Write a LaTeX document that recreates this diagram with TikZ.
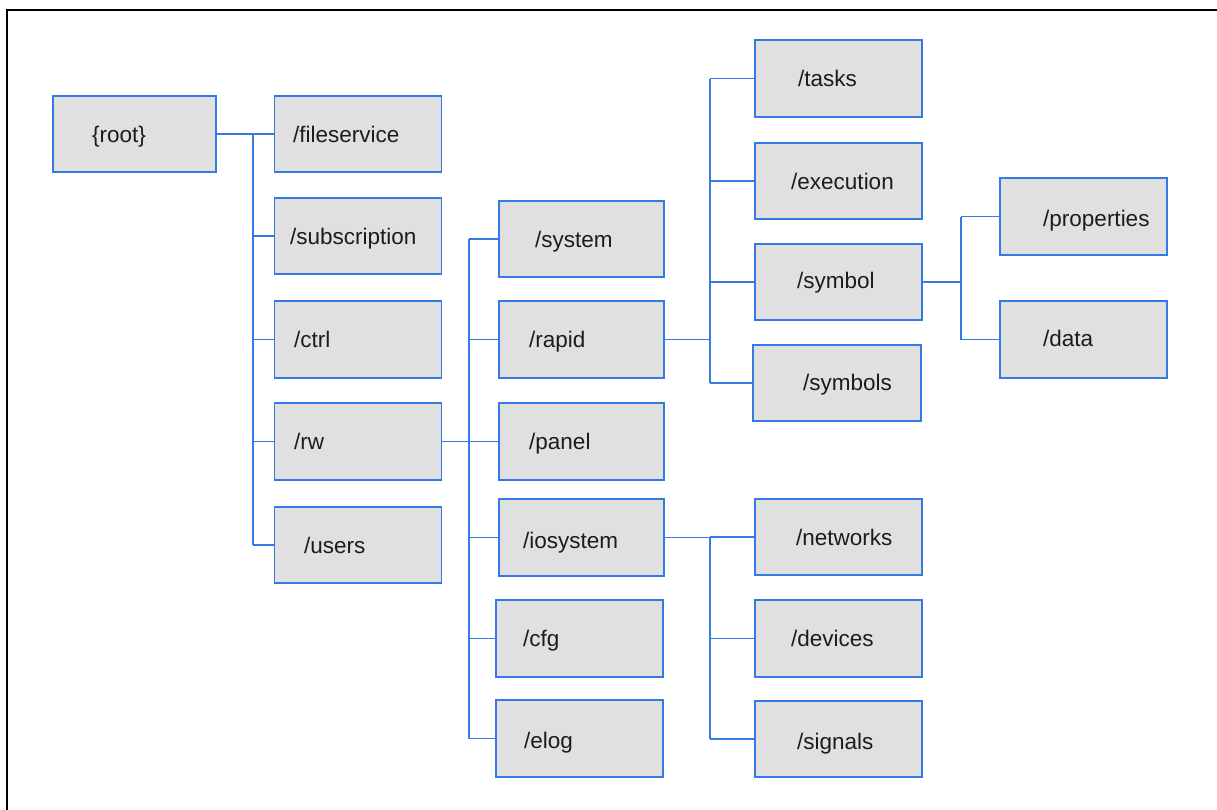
\documentclass[tikz,border=0pt]{standalone}
\usepackage{fontspec}
\setmainfont{Liberation Sans}
\definecolor{boxblue}{RGB}{52,122,230}
\definecolor{boxgray}{RGB}{224,224,224}
\definecolor{txt}{RGB}{28,28,28}
\tikzset{
  box/.style={draw=boxblue, fill=boxgray, line width=1.8pt, inner sep=0pt,
              minimum width=167pt, minimum height=76.5pt},
  lbl/.style={anchor=west, inner sep=0pt, text=txt, text height=16.5pt, text depth=0pt,
              font=\fontsize{22.5}{27}\selectfont},
  conn/.style={draw=boxblue, line width=1.8pt},
  frame/.style={draw=black, line width=2.5pt}
}
\begin{document}
\begin{tikzpicture}[x=1pt,y=-1pt]
\useasboundingbox (0,0) rectangle (1217,809);
% outer frame (only top and left edges are visible)
\coordinate (fbl) at (7,812);
\coordinate (ftl) at (7,10);
\coordinate (ftr) at (1220,10);
\draw[frame] (fbl) -- (ftl) -- (ftr);

% boxes
\node[box, minimum width=163pt] (root) at (134.5,134) {};
\node[box] (fileservice)  at (358,134) {};
\node[box] (subscription) at (358,236) {};
\node[box] (ctrl)         at (358,339.5) {};
\node[box] (rw)           at (358,441.5) {};
\node[box] (users)        at (358,545) {};

\node[box, minimum width=165.5pt] (system)   at (581.5,239) {};
\node[box, minimum width=165.5pt] (rapid)    at (581.5,339.5) {};
\node[box, minimum width=165.5pt] (panel)    at (581.5,441.5) {};
\node[box, minimum width=165.5pt] (iosystem) at (581.5,537.5) {};
\node[box] (cfg)  at (579.5,638.5) {};
\node[box] (elog) at (579.5,738.5) {};

\node[box] (tasks)     at (838.5,78.5) {};
\node[box] (execution) at (838.5,181) {};
\node[box] (symbol)    at (838.5,282) {};
\node[box, minimum width=168pt] (symbols) at (837,383) {};

\node[box] (properties) at (1083.5,216.5) {};
\node[box] (data)       at (1083.5,339.5) {};

\node[box] (networks) at (838.5,537) {};
\node[box] (devices)  at (838.5,638.5) {};
\node[box] (signals)  at (838.5,739) {};

% labels
\node[lbl] (troot)  at (92,134)  {\{root\}};
\node[lbl] (tfile)  at (293,134) {/fileservice};
\node[lbl] (tsub)   at (290,236) {/subscription};
\node[lbl] (tctrl)  at (294,339.5) {/ctrl};
\node[lbl] (trw)    at (294,441.5) {/rw};
\node[lbl] (tusers) at (304,545) {/users};

\node[lbl] (tsystem) at (535,239)   {/system};
\node[lbl] (trapid)  at (529,339.5) {/rapid};
\node[lbl] (tpanel)  at (529,441.5) {/panel};
\node[lbl] (tio)     at (523,540)   {/iosystem};
\node[lbl] (tcfg)    at (523,638.5) {/cfg};
\node[lbl] (telog)   at (524,740)   {/elog};

\node[lbl] (ttasks)   at (798,78.5) {/tasks};
\node[lbl] (texec)    at (791,181)  {/execution};
\node[lbl] (tsymbol)  at (797,280)  {/symbol};
\node[lbl] (tsymbols) at (803,382)  {/symbols};

\node[lbl] (tprop) at (1043,218) {/properties};
\node[lbl] (tdata) at (1043,338) {/data};

\node[lbl] (tnet)  at (796,537)   {/networks};
\node[lbl] (tdev)  at (791,638)   {/devices};
\node[lbl] (tsig)  at (797,741)   {/signals};

% bus coordinates
\coordinate (rootbus) at (253,0);
\coordinate (rwbus)   at (469,0);
\coordinate (rapidbus) at (710,0);
\coordinate (iobus)   at (710,0);
\coordinate (symbus)  at (961,0);

% root subtree
\draw[conn] (root.east) -- (fileservice.west);
\draw[conn] (rootbus |- fileservice.west) -- (rootbus |- users.west);
\foreach \c in {subscription,ctrl,rw,users}
  \draw[conn] (rootbus |- \c.west) -- (\c.west);

% rw subtree
\draw[conn] (rw.east) -- (panel.west);
\draw[conn] (rwbus |- system.west) -- (rwbus |- elog.west);
\foreach \c in {system,rapid,iosystem,cfg,elog}
  \draw[conn] (rwbus |- \c.west) -- (\c.west);

% rapid subtree
\draw[conn] (rapid.east) -- (rapidbus |- rapid.east);
\draw[conn] (rapidbus |- tasks.west) -- (rapidbus |- symbols.west);
\foreach \c in {tasks,execution,symbol,symbols}
  \draw[conn] (rapidbus |- \c.west) -- (\c.west);

% symbol subtree
\draw[conn] (symbol.east) -- (symbus |- symbol.east);
\draw[conn] (symbus |- properties.west) -- (symbus |- data.west);
\foreach \c in {properties,data}
  \draw[conn] (symbus |- \c.west) -- (\c.west);

% iosystem subtree
\draw[conn] (iosystem.east) -- (iobus |- iosystem.east);
\draw[conn] (iobus |- networks.west) -- (iobus |- signals.west);
\foreach \c in {networks,devices,signals}
  \draw[conn] (iobus |- \c.west) -- (\c.west);
\end{tikzpicture}
\end{document}
